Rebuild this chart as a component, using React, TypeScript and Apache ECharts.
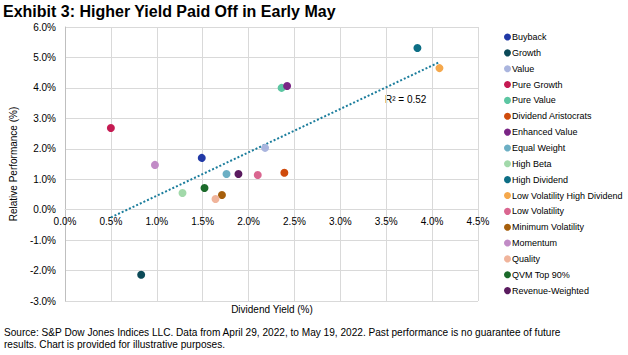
import React, { useEffect, useRef } from "react";
import * as echarts from "echarts";

const names = [
  "Buyback", "Growth", "Value", "Pure Growth", "Pure Value", "Dividend Aristocrats",
  "Enhanced Value", "Equal Weight", "High Beta", "High Dividend", "Low Volatility High Dividend",
  "Low Volatility", "Minimum Volatility", "Momentum", "Quality", "QVM Top 90%", "Revenue-Weighted",
];
const dividendYield = [1.49, 0.83, 2.18, 0.50, 2.36, 2.39, 2.42, 1.76, 1.28, 3.84, 4.08, 2.10, 1.71, 0.98, 1.64, 1.52, 1.89];
const relativePerf = [1.70, -2.14, 2.03, 2.68, 4.00, 1.21, 4.06, 1.17, 0.55, 5.31, 4.65, 1.14, 0.48, 1.47, 0.35, 0.71, 1.17];
const colors = [
  "#2139a6", "#0c4a58", "#aab5de", "#c51a52", "#5cc6a2", "#cf4b0c",
  "#7a2585", "#6cafc4", "#a2d9aa", "#0d6e85", "#f5a84c",
  "#da6690", "#a65f0c", "#c18bc6", "#f0b49b", "#1b6a2a", "#5a1b5f",
];
const rSquaredLabel = "R² = 0.52";
const yMin = -3;
const yMax = 6;

function regression(xs: number[], ys: number[]) {
  const n = xs.length;
  const mx = xs.reduce((a, b) => a + b, 0) / n;
  const my = ys.reduce((a, b) => a + b, 0) / n;
  let sxy = 0, sxx = 0;
  for (let i = 0; i < n; i++) {
    sxy += (xs[i] - mx) * (ys[i] - my);
    sxx += (xs[i] - mx) * (xs[i] - mx);
  }
  const slope = sxy / sxx;
  return { slope, intercept: my - slope * mx };
}

export default function App() {
  const ref = useRef<HTMLDivElement>(null);
  useEffect(() => {
    if (!ref.current) return;
    const chart = echarts.init(ref.current, undefined, { renderer: "svg" });
    const font = "Liberation Sans, Arial, sans-serif";
    const { slope, intercept } = regression(dividendYield, relativePerf);
    const xmin = Math.min(...dividendYield);
    const xmax = Math.max(...dividendYield);
    const gridTop = 27;
    const gridBottom = 54;
    const gridHeight = 355 - gridTop - gridBottom;
    const zeroOffset = (gridHeight * (0 - yMin)) / (yMax - yMin);
    const scatterSeries = names.map((name, i) => ({
      name,
      type: "scatter",
      data: [[dividendYield[i], relativePerf[i]]],
      symbolSize: 8,
      itemStyle: { color: colors[i], opacity: 1 },
      z: 3,
    }));
    chart.setOption({
      animation: false,
      backgroundColor: "#ffffff",
      textStyle: { fontFamily: font },
      title: {
        text: "Exhibit 3: Higher Yield Paid Off in Early May",
        left: 3,
        top: 3,
        padding: 0,
        textStyle: { fontSize: 16, fontWeight: "bold", color: "#000", fontFamily: font, lineHeight: 16 },
      },
      grid: { left: 65, right: 150, top: gridTop, bottom: gridBottom, containLabel: false, outerBoundsMode: "none" },
      legend: {
        data: names,
        orient: "vertical",
        left: 504,
        top: 32,
        icon: "circle",
        itemWidth: 7,
        itemHeight: 7,
        itemGap: 5.85,
        padding: 0,
        textStyle: { fontSize: 9, color: "#000", fontFamily: font, padding: [0, 0, 0, -4], lineHeight: 10 },
      },
      xAxis: {
        type: "value",
        min: 0,
        max: 4.5,
        interval: 0.5,
        position: "bottom",
        offset: -zeroOffset,
        axisLine: { show: true, onZero: false, lineStyle: { color: "#d9d9d9" } },
        axisTick: { show: false },
        axisLabel: {
          fontSize: 10,
          color: "#000",
          margin: 7,
          formatter: (v: number) => v.toFixed(1) + "%",
        },
        splitLine: { show: true, lineStyle: { color: "#d9d9d9" } },
      },
      yAxis: {
        type: "value",
        min: yMin,
        max: yMax,
        interval: 1,
        name: "Relative Performance (%)",
        nameLocation: "middle",
        nameGap: 45,
        nameTextStyle: { fontSize: 10, color: "#000", fontFamily: font },
        axisLine: { show: true, onZero: false, lineStyle: { color: "#bfbfbf" } },
        axisTick: { show: false },
        axisLabel: {
          fontSize: 10,
          color: "#000",
          margin: 9,
          formatter: (v: number) => v.toFixed(1) + "%",
        },
        splitLine: { show: true, lineStyle: { color: "#d9d9d9" } },
      },
      series: [
        {
          name: "Trend",
          type: "line",
          data: [
            [xmin, slope * xmin + intercept],
            [xmax, slope * xmax + intercept],
          ],
          symbol: "none",
          lineStyle: { color: "#1b7d9c", width: 2, type: [2, 2] },
          z: 2,
          silent: true,
        },
        ...scatterSeries,
      ],
      graphic: [
        {
          type: "text",
          x: 385,
          y: 94,
          style: { text: rSquaredLabel, fontSize: 10, fill: "#000", fontFamily: font },
        },
        {
          type: "text",
          x: 272,
          y: 304,
          style: { text: "Dividend Yield (%)", fontSize: 10, fill: "#000", fontFamily: font, align: "center" },
        },
        {
          type: "text",
          x: 4,
          y: 327,
          style: {
            text:
              "Source: S&P Dow Jones Indices LLC. Data from April 29, 2022, to May 19, 2022. Past performance is no guarantee of future\nresults. Chart is provided for illustrative purposes.",
            fontSize: 10.1,
            lineHeight: 11.5,
            fill: "#000",
            fontFamily: font,
          },
        },
      ],
    });
    return () => chart.dispose();
  }, []);
  return <div ref={ref} style={{ width: 628, height: 355, position: "absolute", left: 0, top: 0 }} />;
}
